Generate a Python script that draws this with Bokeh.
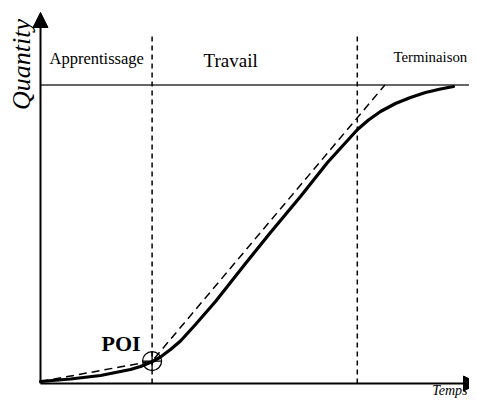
import numpy as np
from bokeh.plotting import figure
from bokeh.models import Range1d, Arrow, NormalHead
from bokeh.core.properties import value
from bokeh.embed import file_html
from bokeh.resources import INLINE

# ---- data (time units vs quantity units, capacity = 100) ----
curve_t = [0.0, 7.5, 15.0, 22.5, 25.0, 28.0, 30.0, 32.5, 35.0, 38.75, 43.75, 51.25,
           57.5, 65.0, 71.75, 79.25, 82.0, 85.0, 88.75, 92.5, 96.25, 100.0, 103.25]
curve_q = [0.67, 1.51, 2.68, 4.69, 5.70, 7.37, 8.88, 11.39, 14.24, 19.77, 27.47, 40.20,
           50.59, 62.65, 74.04, 85.09, 88.27, 91.12, 93.80, 95.81, 97.49, 98.66, 99.50]
tangent_t = [0.0, 27.9, 86.1]
tangent_q = [0.67, 7.5, 100.0]
poi_t = [27.9]
poi_q = [7.5]
phase_bounds = [27.9, 79.2]
capacity = 100.0
phase_labels = ["Apprentissage", "Travail", "Terminaison"]

FONT = "Liberation Serif"

p = figure(width=469, height=399, output_backend="svg", toolbar_location=None,
           x_range=Range1d(-10, 107.25), y_range=Range1d(-5.36, 128.31),
           x_axis_location=None, y_axis_location=None, min_border=0,
           background_fill_color="white", border_fill_color="white")
p.outline_line_color = None
p.xgrid.visible = False
p.ygrid.visible = False

# capacity line
p.line([0, 112], [capacity, capacity], line_color="#333333", line_width=1.3)

# phase boundaries
for b in phase_bounds:
    p.line([b, b], [0, 117.6], line_color="black", line_width=1.5, line_dash="5 4")

# tangent dashed line
p.line(tangent_t, tangent_q, line_color="black", line_width=1.5, line_dash="8 5")

# S-curve
p.line(curve_t, curve_q, line_color="black", line_width=3.2, line_cap="round",
       line_join="round")

# POI marker
p.scatter(poi_t, poi_q, marker="circle_cross", size=19, fill_color=None,
          line_color="black", line_width=1.3)

# axes with arrows
p.add_layout(Arrow(x_start=0, y_start=0, x_end=0, y_end=124.3, line_width=2,
                   end=NormalHead(size=15, fill_color="black", line_color="black")))
p.add_layout(Arrow(x_start=0, y_start=0, x_end=109.5, y_end=0, line_width=2,
                   end=NormalHead(size=15, fill_color="black", line_color="black")))

# phase labels
p.text([2.25], [108.85], text=[phase_labels[0]], text_font=value(FONT),
       text_font_size="16.5px", text_baseline="alphabetic", text_color="black")
p.text([40.75], [108.25], text=[phase_labels[1]], text_font=value(FONT),
       text_font_size="19px", text_baseline="alphabetic", text_color="black")
p.text([88.25], [109.35], text=[phase_labels[2]], text_font=value(FONT),
       text_font_size="14.8px", text_baseline="alphabetic", text_color="black")

# POI label
p.text([15.25], [13.41], text=["POI"], text_font=value(FONT), text_font_size="22px",
       text_font_style="bold", text_baseline="alphabetic", text_color="black")

# axis titles
p.text([-4.75], [106.9], text=["Quantity"], text_font=value(FONT), text_font_size="26px",
       text_font_style="italic", text_baseline="alphabetic", text_align="center",
       angle=np.pi / 2, text_color="black")
p.text([106.75], [-2.2], text=["Temps"], text_font=value(FONT), text_font_size="14px",
       text_font_style="italic", text_baseline="alphabetic", text_align="right",
       text_color="black")

open("out.html", "w").write(file_html(p, INLINE))
